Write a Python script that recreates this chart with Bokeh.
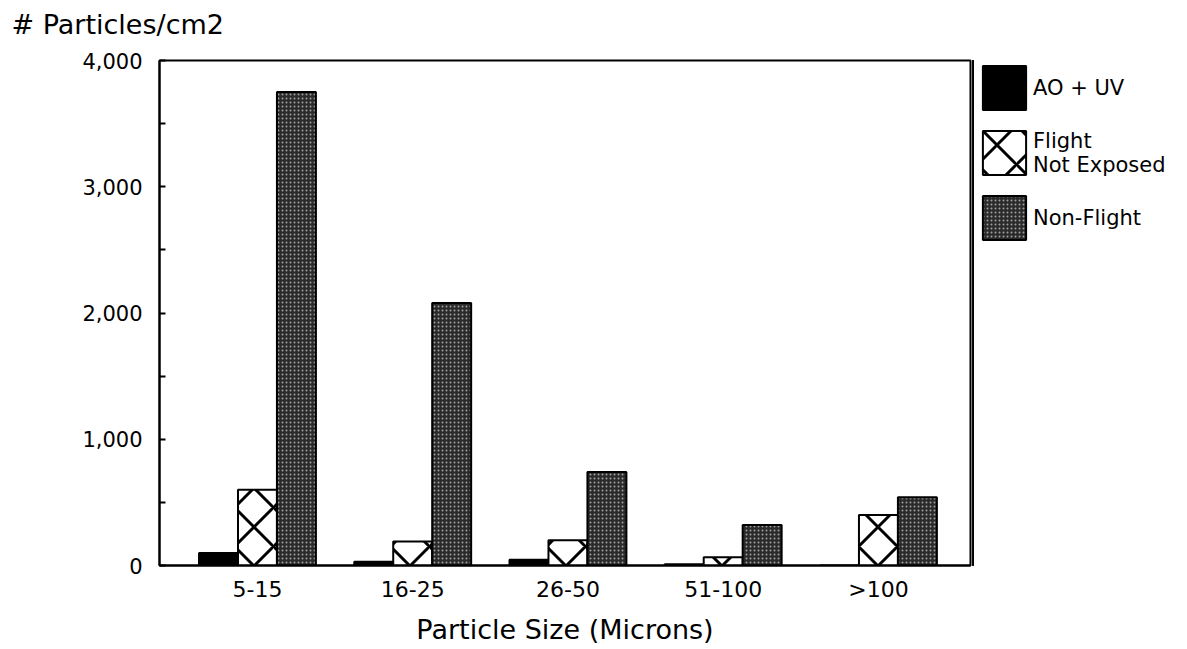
from bokeh.plotting import figure
from bokeh.layouts import row
from bokeh.models import (ColumnDataSource, Legend, LegendItem, FixedTicker,
                          NumeralTickFormatter, Range1d, Title)
from bokeh.embed import file_html
from bokeh.resources import INLINE

categories = ["5-15", "16-25", "26-50", "51-100", ">100"]
series_names = ["AO + UV", "Flight\nNot Exposed", "Non-Flight"]
ao_uv = [100, 30, 45, 10, 0]
flight_not_exposed = [600, 190, 200, 65, 400]
non_flight = [3750, 2080, 740, 320, 540]
y_ticks = [0, 1000, 2000, 3000, 4000]

FONT = "DejaVu Sans"
idx = list(range(len(categories)))
bw = 0.251

styles = [
    dict(fill_color="black", line_color="black", line_width=2),
    dict(fill_color="white", line_color="black", line_width=2, hatch_pattern="x",
         hatch_scale=39, hatch_weight=3, hatch_color="black"),
    dict(fill_color="#2a2a2a", line_color="black", line_width=2, hatch_pattern="dot",
         hatch_scale=4, hatch_weight=1.2, hatch_color="white", hatch_alpha=0.55),
]

src = ColumnDataSource(dict(
    x_ao=[i - bw for i in idx],
    x_fl=idx,
    x_nf=[i + bw for i in idx],
    ao=ao_uv, fl=flight_not_exposed, nf=non_flight,
))

p = figure(width=972, height=649, output_backend="svg", toolbar_location=None,
           x_range=Range1d(-0.631, 4.593), y_range=Range1d(0, 4000),
           min_border_left=159, min_border_right=2, min_border_top=60,
           min_border_bottom=84, background_fill_color="white",
           border_fill_color="white")

p.vbar(x="x_ao", top="ao", width=bw, source=src, **styles[0])
p.vbar(x="x_fl", top="fl", width=bw, source=src, **styles[1])
p.vbar(x="x_nf", top="nf", width=bw, source=src, **styles[2])

p.xgrid.visible = False
p.ygrid.visible = False
p.outline_line_color = "black"
p.outline_line_width = 2

p.xaxis.ticker = FixedTicker(ticks=idx)
p.xaxis.major_label_overrides = {i: c for i, c in zip(idx, categories)}
p.xaxis.major_tick_line_color = None
p.xaxis.minor_tick_line_color = None
p.xaxis.axis_line_width = 2
p.xaxis.major_label_text_font = FONT
p.xaxis.major_label_text_font_size = "22px"
p.xaxis.major_label_text_color = "black"
p.xaxis.major_label_standoff = 5
p.xaxis.axis_label = "Particle Size (Microns)"
p.xaxis.axis_label_text_font = FONT
p.xaxis.axis_label_text_font_size = "27px"
p.xaxis.axis_label_text_font_style = "normal"
p.xaxis.axis_label_text_color = "black"
p.xaxis.axis_label_standoff = 9

p.yaxis.ticker = FixedTicker(ticks=y_ticks, minor_ticks=[500, 1500, 2500, 3500])
p.yaxis.formatter = NumeralTickFormatter(format="0,0")
p.yaxis.axis_line_width = 2
p.yaxis.major_tick_in = 6
p.yaxis.major_tick_out = 0
p.yaxis.minor_tick_in = 6
p.yaxis.minor_tick_out = 0
p.yaxis.major_tick_line_width = 2
p.yaxis.minor_tick_line_width = 2
p.yaxis.major_label_text_font = FONT
p.yaxis.major_label_text_font_size = "21px"
p.yaxis.major_label_text_color = "black"
p.yaxis.major_label_standoff = 17

# spacer (nearest the frame), then the y-axis caption above it
p.add_layout(Title(text=" ", text_font_size="8px", standoff=10), "above")
p.add_layout(Title(text="# Particles/cm2", align="left", offset=-148,
                   text_font=FONT, text_font_size="27px", text_color="black",
                   text_font_style="normal", standoff=0), "above")

# legend panel: a second, axis-less figure holding the legend swatches
lg = figure(width=215, height=649, output_backend="svg", toolbar_location=None,
            x_range=Range1d(100, 101), y_range=Range1d(0, 1),
            min_border_left=0, min_border_right=0, min_border_top=0,
            min_border_bottom=0, outline_line_color=None,
            background_fill_color="white", border_fill_color="white")
lg.axis.visible = False
lg.grid.visible = False
items = []
for name, vals, st in zip(series_names, [ao_uv, flight_not_exposed, non_flight], styles):
    r = lg.vbar(x=idx, top=vals, width=bw, **st)
    items.append(LegendItem(label=name, renderers=[r]))

legend = Legend(items=items, location=(5, 505 - 185), glyph_width=54, glyph_height=55,
                spacing=10, padding=0, margin=0, border_line_color=None,
                background_fill_alpha=0, label_text_font=FONT,
                label_text_font_size="21px", label_text_color="black",
                label_standoff=2, label_height=55)
lg.add_layout(legend, "center")

layout = row(p, lg, spacing=0)
open("out.html", "w").write(file_html(layout, INLINE))
